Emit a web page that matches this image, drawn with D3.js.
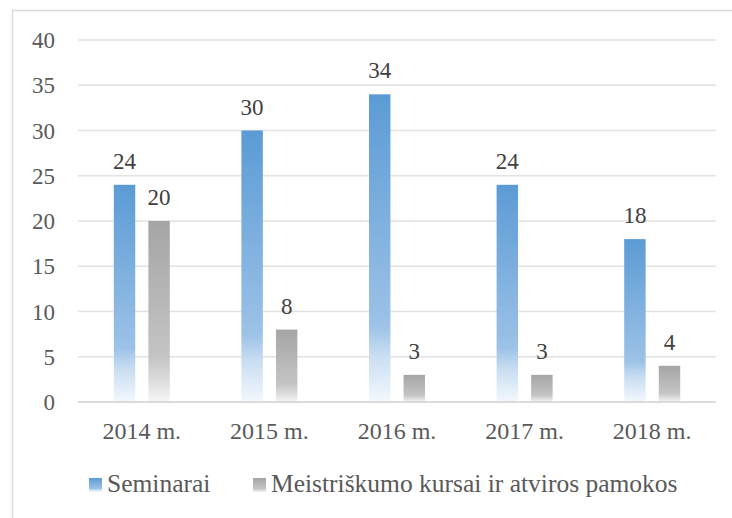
<!DOCTYPE html>
<html>
<head>
<meta charset="utf-8">
<script src="https://cdn.jsdelivr.net/npm/d3@7"></script>
<style>
  body { margin: 0; background: #fff; }
  text { font-family: "Liberation Serif", "DejaVu Serif", serif; fill: #595959; }
</style>
</head>
<body>
<svg></svg>
<script>
// values
var years = ["2014 m.", "2015 m.", "2016 m.", "2017 m.", "2018 m."];
var seminarai = [24, 30, 34, 24, 18];
var kursai = [20, 8, 3, 3, 4];
var seriesNames = ["Seminarai", "Meistriškumo kursai ir atviros pamokos"];
var yTicks = [0, 5, 10, 15, 20, 25, 30, 35, 40];

var svgWidth = 732, svgHeight = 518;
var margin = { top: 40, right: 16, left: 78 };
var width = svgWidth - margin.left - margin.right;
var height = 402 - margin.top;

var svg = d3.select("svg")
  .attr("width", svgWidth)
  .attr("height", svgHeight);

// frame (only top and left edges show)
svg.append("path")
  .attr("d", "M12.5,518 L12.5,10.5 L732,10.5")
  .attr("fill", "none")
  .attr("stroke", "#d9d9d9")
  .attr("stroke-width", 1.5);

var defs = svg.append("defs");
function grad(id, stops) {
  var lg = defs.append("linearGradient")
    .attr("id", id)
    .attr("x1", 0).attr("y1", 0).attr("x2", 0).attr("y2", 1);
  stops.forEach(function(s) {
    lg.append("stop").attr("offset", s[0]).attr("stop-color", s[1]);
  });
}
grad("gBlue", [[0, "#5b9bd5"], [0.75, "#9cc2e7"], [0.85, "#c9def2"], [1, "#f3f8fd"]]);
grad("gGray", [[0, "#a5a5a5"], [0.75, "#c4c4c4"], [0.88, "#dcdcdc"], [1, "#f6f6f6"]]);

var g = svg.append("g")
  .attr("transform", "translate(" + margin.left + "," + margin.top + ")");

var x = d3.scaleBand().domain(years).range([0, width]);
var x1 = d3.scaleBand().domain([0, 1])
  .range([x.bandwidth() / 2 - 28, x.bandwidth() / 2 + 28])
  .paddingInner(0.38).paddingOuter(0);
var y = d3.scaleLinear().domain([0, 40]).range([height, 0]);

// gridlines
g.selectAll(".grid")
  .data(yTicks.slice(1))
  .enter().append("line")
  .attr("x1", 0).attr("x2", width)
  .attr("y1", function(d) { return y(d); })
  .attr("y2", function(d) { return y(d); })
  .attr("stroke", "#e2e2e2")
  .attr("stroke-width", 1.5);

// y labels
g.selectAll(".ylab")
  .data(yTicks)
  .enter().append("text")
  .attr("x", -23)
  .attr("y", function(d) { return y(d); })
  .attr("dy", "0.35em")
  .attr("text-anchor", "end")
  .style("font-size", "23px")
  .text(function(d) { return d; });

var series = [
  { name: seriesNames[0], values: seminarai, fill: "url(#gBlue)" },
  { name: seriesNames[1], values: kursai, fill: "url(#gGray)" }
];

series.forEach(function(s, si) {
  var sg = g.append("g");
  sg.selectAll("rect")
    .data(s.values)
    .enter().append("rect")
    .attr("x", function(d, i) { return x(years[i]) + x1(si); })
    .attr("width", x1.bandwidth())
    .attr("y", function(d) { return y(d); })
    .attr("height", function(d) { return y(0) - y(d); })
    .attr("fill", s.fill);
  sg.selectAll("text")
    .data(s.values)
    .enter().append("text")
    .attr("x", function(d, i) { return x(years[i]) + x1(si) + x1.bandwidth() / 2; })
    .attr("y", function(d) { return y(d) - 16; })
    .attr("text-anchor", "middle")
    .style("font-size", "23px")
    .style("fill", "#404040")
    .text(function(d) { return d; });
});

// zero axis line
g.append("line")
  .attr("x1", 0).attr("x2", width)
  .attr("y1", y(0)).attr("y2", y(0))
  .attr("stroke", "#cfcfcf")
  .attr("stroke-width", 1.5);

// x labels
g.selectAll(".xlab")
  .data(years)
  .enter().append("text")
  .attr("x", function(d) { return x(d) + x.bandwidth() / 2; })
  .attr("y", height + 37)
  .attr("text-anchor", "middle")
  .style("font-size", "24px")
  .text(function(d) { return d; });

// legend
var legend = svg.append("g").attr("transform", "translate(89,492)");
var legX = [0, 164];
series.forEach(function(s, i) {
  var lg = legend.append("g").attr("transform", "translate(" + legX[i] + ",0)");
  lg.append("rect")
    .attr("x", 0).attr("y", -14)
    .attr("width", 13).attr("height", 14)
    .attr("fill", s.fill);
  lg.append("text")
    .attr("x", 18).attr("y", 0)
    .style("font-size", "25.5px")
    .text(s.name);
});
</script>
</body>
</html>
